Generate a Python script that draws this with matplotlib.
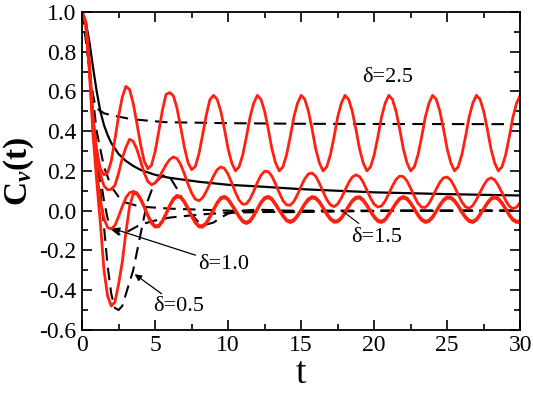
import matplotlib
matplotlib.use('Agg')
import matplotlib.pyplot as plt

plt.rcParams['font.family'] = ['Liberation Serif', 'DejaVu Serif']
plt.rcParams['mathtext.fontset'] = 'custom'
plt.rcParams['mathtext.rm'] = 'Liberation Serif'
plt.rcParams['mathtext.it'] = 'Liberation Serif:italic:bold'
plt.rcParams['mathtext.bf'] = 'Liberation Serif:bold'

# time grid for the red curves (step 0.25)
t_red = [0, 0.25, 0.5, 0.75, 1, 1.25, 1.5, 1.75, 2, 2.25, 2.5, 2.75,
         3, 3.25, 3.5, 3.75, 4, 4.25, 4.5, 4.75, 5, 5.25, 5.5, 5.75,
         6, 6.25, 6.5, 6.75, 7, 7.25, 7.5, 7.75, 8, 8.25, 8.5, 8.75,
         9, 9.25, 9.5, 9.75, 10, 10.25, 10.5, 10.75, 11, 11.25, 11.5, 11.75,
         12, 12.25, 12.5, 12.75, 13, 13.25, 13.5, 13.75, 14, 14.25, 14.5, 14.75,
         15, 15.25, 15.5, 15.75, 16, 16.25, 16.5, 16.75, 17, 17.25, 17.5, 17.75,
         18, 18.25, 18.5, 18.75, 19, 19.25, 19.5, 19.75, 20, 20.25, 20.5, 20.75,
         21, 21.25, 21.5, 21.75, 22, 22.25, 22.5, 22.75, 23, 23.25, 23.5, 23.75,
         24, 24.25, 24.5, 24.75, 25, 25.25, 25.5, 25.75, 26, 26.25, 26.5, 26.75,
         27, 27.25, 27.5, 27.75, 28, 28.25, 28.5, 28.75, 29, 29.25, 29.5, 29.75,
         30]

red_25 = [1.0, 0.95, 0.74, 0.47, 0.30, 0.21, 0.18, 0.19, 0.25, 0.36, 0.475, 0.57,
          0.625, 0.61, 0.54, 0.44, 0.335, 0.25, 0.211, 0.228, 0.297, 0.398, 0.505, 0.585,
          0.594, 0.578, 0.515, 0.42, 0.321, 0.242, 0.206, 0.222, 0.285, 0.38, 0.479, 0.558,
          0.58, 0.56, 0.50, 0.41, 0.31, 0.24, 0.20, 0.22, 0.28, 0.37, 0.47, 0.54,
          0.58, 0.56, 0.50, 0.41, 0.31, 0.24, 0.20, 0.22, 0.28, 0.37, 0.47, 0.54,
          0.58, 0.56, 0.50, 0.41, 0.31, 0.24, 0.20, 0.22, 0.28, 0.37, 0.47, 0.54,
          0.58, 0.56, 0.50, 0.41, 0.31, 0.24, 0.20, 0.22, 0.28, 0.37, 0.47, 0.54,
          0.58, 0.56, 0.50, 0.41, 0.31, 0.24, 0.20, 0.22, 0.28, 0.37, 0.47, 0.54,
          0.58, 0.56, 0.50, 0.41, 0.31, 0.24, 0.20, 0.22, 0.28, 0.37, 0.47, 0.54,
          0.58, 0.56, 0.50, 0.41, 0.31, 0.24, 0.20, 0.22, 0.28, 0.37, 0.47, 0.54,
          0.58]

red_15 = [1.0, 0.95, 0.74, 0.46, 0.28, 0.18, 0.125, 0.105, 0.107, 0.127, 0.188, 0.263,
          0.318, 0.359, 0.349, 0.309, 0.251, 0.19, 0.147, 0.13, 0.139, 0.164, 0.197, 0.231,
          0.257, 0.27, 0.262, 0.232, 0.186, 0.134, 0.089, 0.058, 0.05, 0.064, 0.096, 0.135,
          0.174, 0.206, 0.22, 0.212, 0.183, 0.139, 0.092, 0.053, 0.032, 0.034, 0.058, 0.097,
          0.141, 0.178, 0.198, 0.196, 0.173, 0.134, 0.09, 0.051, 0.029, 0.027, 0.046, 0.081,
          0.123, 0.16, 0.185, 0.189, 0.173, 0.137, 0.096, 0.056, 0.029, 0.02, 0.033, 0.063,
          0.102, 0.14, 0.169, 0.18, 0.171, 0.143, 0.103, 0.063, 0.032, 0.018, 0.023, 0.048,
          0.085, 0.124, 0.157, 0.174, 0.171, 0.149, 0.112, 0.072, 0.037, 0.017, 0.016, 0.035,
          0.069, 0.108, 0.143, 0.165, 0.169, 0.153, 0.12, 0.081, 0.044, 0.019, 0.012, 0.025,
          0.055, 0.092, 0.127, 0.155, 0.165, 0.155, 0.127, 0.091, 0.052, 0.023, 0.01, 0.017,
          0.041]

red_10 = [1.0, 0.94, 0.72, 0.42, 0.20, 0.05, -0.04, -0.085, -0.092, -0.075, -0.03, 0.02,
          0.065, 0.09, 0.097, 0.09, 0.063, 0.023, -0.021, -0.057, -0.076, -0.074, -0.05, -0.013,
          0.028, 0.061, 0.077, 0.071, 0.048, 0.015, -0.023, -0.055, -0.075, -0.076, -0.06, -0.028,
          0.008, 0.042, 0.066, 0.072, 0.06, 0.033, 0.004, -0.026, -0.05, -0.058, -0.049, -0.022,
          0.011, 0.044, 0.066, 0.072, 0.061, 0.035, 0.006, -0.022, -0.045, -0.053, -0.045, -0.023,
          0.006, 0.037, 0.06, 0.071, 0.066, 0.047, 0.018, -0.013, -0.038, -0.052, -0.05, -0.034,
          -0.006, 0.025, 0.052, 0.068, 0.07, 0.056, 0.03, 0.0, -0.028, -0.048, -0.053, -0.042,
          -0.016, 0.012, 0.041, 0.063, 0.071, 0.063, 0.041, 0.012, -0.019, -0.042, -0.053, -0.048,
          -0.029, 0.0, 0.031, 0.056, 0.07, 0.068, 0.053, 0.027, -0.003, -0.03, -0.048, -0.053,
          -0.042, -0.016, 0.012, 0.041, 0.063, 0.071, 0.063, 0.041, 0.012, -0.019, -0.042, -0.053,
          -0.051]

red_05 = [1.0, 0.94, 0.70, 0.38, 0.15, -0.06, -0.30, -0.43, -0.48, -0.46, -0.37, -0.26,
          -0.11, 0.02, 0.085, 0.083, 0.056, 0.016, -0.028, -0.064, -0.083, -0.081, -0.057, -0.02,
          0.021, 0.054, 0.07, 0.064, 0.041, 0.008, -0.03, -0.062, -0.082, -0.083, -0.067, -0.035,
          0.001, 0.035, 0.059, 0.065, 0.053, 0.026, -0.003, -0.033, -0.057, -0.065, -0.056, -0.029,
          0.004, 0.037, 0.059, 0.065, 0.054, 0.028, -0.001, -0.029, -0.052, -0.06, -0.052, -0.03,
          -0.001, 0.03, 0.053, 0.064, 0.059, 0.04, 0.011, -0.02, -0.045, -0.059, -0.057, -0.041,
          -0.013, 0.018, 0.045, 0.061, 0.063, 0.049, 0.023, -0.007, -0.035, -0.055, -0.06, -0.049,
          -0.023, 0.005, 0.034, 0.056, 0.064, 0.056, 0.034, 0.005, -0.026, -0.049, -0.06, -0.055,
          -0.036, -0.007, 0.024, 0.049, 0.063, 0.061, 0.046, 0.02, -0.01, -0.037, -0.055, -0.06,
          -0.049, -0.023, 0.005, 0.034, 0.056, 0.064, 0.056, 0.034, 0.005, -0.026, -0.049, -0.06,
          -0.058]

# black solid curve
t_solid = [0, 0.25, 0.5, 0.75, 1, 1.25, 1.5, 1.75, 2, 2.5, 3, 3.5, 4, 5, 6, 7, 8,
           10, 12, 15, 20, 25, 30]
c_solid = [1.0, 0.95, 0.85, 0.72, 0.60, 0.50, 0.43, 0.38, 0.34, 0.285, 0.25, 0.225,
           0.205, 0.18, 0.165, 0.155, 0.145, 0.13, 0.122, 0.108, 0.092, 0.083, 0.076]

# dashed curves
t_d25 = [0, 0.2, 0.4, 0.55, 0.7, 0.9, 1.1, 1.5, 2, 3.4, 5.7, 10, 15, 20, 30]
c_d25 = [1.0, 0.95, 0.80, 0.68, 0.60, 0.53, 0.51, 0.49, 0.48, 0.46, 0.445, 0.44,
         0.437, 0.436, 0.435]

t_d15 = [0, 0.5, 1.0, 1.5, 2.0, 2.5, 3, 4, 6, 8, 10, 12, 14, 18, 22, 30]
c_d15 = [1.0, 0.72, 0.40, 0.22, 0.12, 0.07, 0.04, 0.02, 0.01, 0.005, 0.0, -0.005,
         -0.008, -0.003, 0.0, 0.0]

t_d10 = [0, 0.25, 0.5, 0.75, 1, 1.25, 1.5, 1.75, 2, 2.5, 3, 3.5, 4, 5, 6, 8, 10,
         12, 15, 20, 30]
c_d10 = [1.0, 0.9, 0.7, 0.5, 0.32, 0.17, 0.05, -0.04, -0.09, -0.12, -0.11, -0.09,
         -0.07, -0.05, -0.035, -0.02, -0.01, -0.008, -0.004, -0.002, 0.0]

t_d05 = [0, 0.25, 0.5, 0.75, 1, 1.25, 1.5, 1.75, 2, 2.25, 2.5, 2.75, 3, 3.25, 3.5,
         3.75, 4, 4.25, 4.5, 4.75, 5, 5.5, 5.75, 6, 6.5, 7, 7.5, 8, 8.5, 9, 9.5, 10,
         11, 12, 14, 30]
c_d05 = [1.0, 0.9, 0.7, 0.5, 0.3, 0.1, -0.08, -0.28, -0.42, -0.49, -0.5, -0.48,
         -0.42, -0.36, -0.3, -0.21, -0.12, -0.03, 0.05, 0.1, 0.14, 0.175, 0.18, 0.17,
         0.11, 0.04, -0.02, -0.06, -0.07, -0.06, -0.035, -0.015, 0.0, 0.005, 0.0, 0.0]

fig = plt.figure(figsize=(5.33, 3.96), dpi=100)
ax = fig.add_axes([0.154, 0.167, 0.822, 0.803])

dash = (0, (6, 3.5))
ax.plot(t_d25, c_d25, color='black', lw=1.5, linestyle=dash)
ax.plot(t_d15, c_d15, color='black', lw=1.5, linestyle=dash)
ax.plot(t_d10, c_d10, color='black', lw=1.5, linestyle=dash)
ax.plot(t_d05, c_d05, color='black', lw=1.5, linestyle=dash)
ax.plot(t_solid, c_solid, color='black', lw=1.6)

for vals in (red_25, red_15, red_10, red_05):
    ax.plot(t_red, vals, color='#ff2010', lw=2.0)

ax.set_xlim(0, 30)
ax.set_ylim(-0.6, 1.0)
ax.set_xticks([0, 5, 10, 15, 20, 25, 30])
ax.set_yticks([-0.6, -0.4, -0.2, 0.0, 0.2, 0.4, 0.6, 0.8, 1.0])
ax.set_yticklabels(['-0.6', '-0.4', '-0.2', '0.0', '0.2', '0.4', '0.6', '0.8', '1.0'])
ax.set_xticks([2.5, 7.5, 12.5, 17.5, 22.5, 27.5], minor=True)
ax.set_yticks([-0.5, -0.3, -0.1, 0.1, 0.3, 0.5, 0.7, 0.9], minor=True)
ax.tick_params(which='both', direction='in', top=True, right=True, width=1.2,
               labelsize=17, pad=4)
ax.tick_params(which='major', length=7)
ax.tick_params(which='minor', length=4)
for s in ax.spines.values():
    s.set_linewidth(1.3)

ax.set_xlabel('t', fontsize=27, labelpad=0)
ax.set_ylabel(r'$\mathbf{C}_{v}\mathbf{(t)}$', fontsize=24, labelpad=2)

ax.text(20.9, 0.67, 'δ=2.5', fontsize=16, ha='center', va='center')
arrow = dict(arrowstyle='-|>', color='black', lw=0.9, mutation_scale=10,
             shrinkA=0, shrinkB=0)
ax.annotate('δ=1.0', xy=(2.1, -0.09), xytext=(9.7, -0.27), fontsize=16,
            ha='center', va='center', arrowprops=arrow)
ax.annotate('δ=0.5', xy=(3.6, -0.32), xytext=(6.6, -0.48), fontsize=16,
            ha='center', va='center', arrowprops=arrow)
ax.annotate('δ=1.5', xy=(17.8, 0.0), xytext=(20.2, -0.135), fontsize=16,
            ha='center', va='center', arrowprops=dict(arrowstyle='-', color='black', lw=0.8))

fig.savefig('out.png', dpi=100)
